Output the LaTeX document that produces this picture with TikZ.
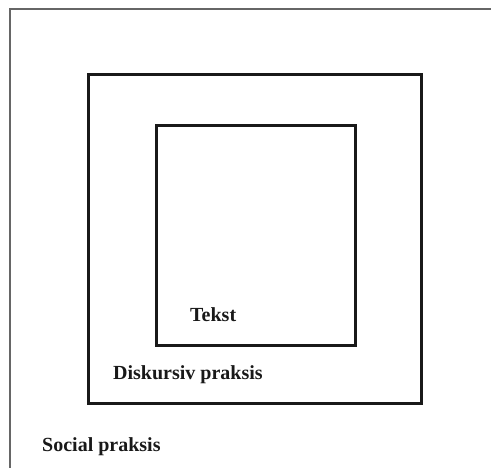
\documentclass[tikz,border=0pt]{standalone}
\usepackage{fontspec}
\setmainfont{Liberation Serif}
\usepackage{tikz}
\usetikzlibrary{calc}

\begin{document}
\begin{tikzpicture}[x=1pt, y=1pt,
    frame/.style={draw=black!90, line width=3pt},
    lbl/.style={anchor=base west, inner sep=0pt, text=black!90,
        font=\fontsize{20}{23}\selectfont\bfseries}]
    \useasboundingbox (0,0) rectangle (491,468);
    \clip (0,0) rectangle (491,468);

    % outer frame, cut by the page
    \draw[black!60, line width=1.2pt] (10,-10) rectangle (500,459);

    \draw[frame] (88,64) rectangle (421,393);
    \draw[frame] (156,122) rectangle (355,342);

    \node[lbl] (tekst) at (190,146) {Tekst};
    \node[lbl] (diskursiv) at (113,88) {Diskursiv praksis};
    \node[lbl] (social) at (42,16) {Social praksis};
\end{tikzpicture}
\end{document}
